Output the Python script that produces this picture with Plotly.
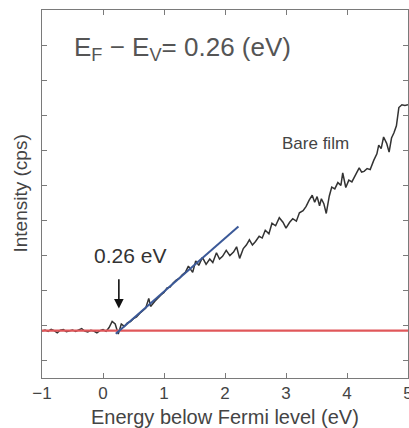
import plotly.graph_objects as go

# Measured spectrum (Energy below Fermi level, eV) vs intensity (arb. units)
energy = [-1.00, -0.95, -0.90, -0.85, -0.80, -0.75, -0.70, -0.65, -0.60, -0.55,
          -0.50, -0.45, -0.40, -0.35, -0.30, -0.25, -0.20, -0.15, -0.10, -0.05,
          0.00, 0.05, 0.10, 0.15, 0.20, 0.25, 0.30, 0.35, 0.40, 0.45,
          0.50, 0.55, 0.60, 0.65, 0.70, 0.75, 0.78, 0.85, 0.90, 0.95,
          1.00, 1.05, 1.10, 1.15, 1.20, 1.25, 1.30, 1.35, 1.40, 1.47,
          1.52, 1.57, 1.63, 1.69, 1.75, 1.80, 1.86, 1.91, 1.96, 2.02,
          2.08, 2.14, 2.19, 2.24, 2.30, 2.35, 2.40, 2.45, 2.50, 2.56,
          2.61, 2.66, 2.72, 2.77, 2.83, 2.89, 2.95, 3.00, 3.06, 3.11,
          3.17, 3.22, 3.28, 3.33, 3.38, 3.43, 3.47, 3.51, 3.55, 3.58,
          3.62, 3.66, 3.71, 3.75, 3.80, 3.85, 3.90, 3.93, 3.98, 4.03,
          4.08, 4.13, 4.20, 4.24, 4.28, 4.33, 4.38, 4.44, 4.49, 4.52,
          4.56, 4.60, 4.65, 4.69, 4.73, 4.77, 4.81, 4.85, 4.90, 4.95, 5.00]
intensity = [0.85, 0.88, 0.84, 0.90, 0.86, 0.80, 0.87, 0.89, 0.83, 0.86,
             0.88, 0.84, 0.87, 0.92, 0.85, 0.82, 0.87, 0.85, 0.80, 0.86,
             0.89, 0.84, 0.95, 1.12, 1.05, 0.76, 1.05, 0.98, 1.08, 1.12,
             1.20, 1.25, 1.35, 1.42, 1.50, 1.78, 1.55, 1.70, 1.80, 1.88,
             1.95, 2.08, 2.10, 2.22, 2.30, 2.35, 2.45, 2.52, 2.70, 2.52,
             2.85, 2.72, 2.95, 2.75, 2.90, 2.80, 3.08, 2.90, 2.98, 3.15,
             3.00, 3.10, 3.25, 2.92, 3.20, 3.30, 3.45, 3.30, 3.40, 3.55,
             3.50, 3.72, 3.62, 3.92, 3.85, 4.08, 3.95, 3.78, 3.95, 4.05,
             3.98, 4.22, 4.28, 4.40, 4.58, 4.72, 4.52, 4.68, 4.42, 4.62,
             4.48, 4.20, 4.70, 4.95, 4.90, 5.08, 5.00, 5.36, 4.94, 5.15,
             5.10, 5.25, 5.50, 5.38, 5.40, 5.48, 5.45, 5.72, 5.90, 6.15,
             6.05, 6.38, 6.20, 5.95, 6.35, 6.50, 6.70, 7.22, 7.30, 7.28, 7.30]

# Background (red) and linear fit of the leading edge (blue)
baseline_x = [-1.0, 5.0]
baseline_y = [0.86, 0.86]
fit_x = [0.21, 2.22]
fit_y = [0.77, 3.83]

x_ticks = [-1, 0, 1, 2, 3, 4, 5]
onset = 0.26

FONT = "Liberation Sans, Arial, Helvetica, sans-serif"
AXC = "#7a7a7a"

fig = go.Figure()
fig.add_trace(go.Scatter(x=energy, y=intensity, mode="lines",
                         line=dict(color="#333333", width=1.5), showlegend=False))
fig.add_trace(go.Scatter(x=baseline_x, y=baseline_y, mode="lines",
                         line=dict(color="#e0575a", width=2.2), showlegend=False))
fig.add_trace(go.Scatter(x=fit_x, y=fit_y, mode="lines",
                         line=dict(color="#3b5998", width=2), showlegend=False))

fig.update_layout(
    width=409, height=428,
    margin=dict(l=42, r=1, t=10, b=50, autoexpand=False),
    paper_bgcolor="white", plot_bgcolor="white",
    font=dict(family=FONT, color="#444"),
    xaxis=dict(range=[-1, 5], tickvals=x_ticks, ticks="inside", ticklen=5,
               tickcolor=AXC, showline=True, linecolor=AXC, linewidth=1,
               mirror="ticks", showgrid=False, zeroline=False,
               ticklabeloverflow="allow", automargin=False,
               tickfont=dict(size=17, color="#444")),
    yaxis=dict(range=[-0.49, 10], dtick=1, tick0=0, ticks="inside", ticklen=5,
               tickcolor=AXC, showline=True, linecolor=AXC, linewidth=1,
               mirror="ticks", showgrid=False, zeroline=False,
               showticklabels=False, automargin=False),
)

fig.add_annotation(x=-0.51, y=8.91, xref="x", yref="y", xanchor="left",
                   text="E<sub>F</sub> − E<sub>V</sub>= 0.26 (eV)", showarrow=False,
                   font=dict(size=26, color="#555", family=FONT))
fig.add_annotation(x=3.48, y=6.2, xref="x", yref="y", text="Bare film",
                   showarrow=False, font=dict(size=17, color="#444", family=FONT))
fig.add_annotation(x=0.44, y=3.0, xref="x", yref="y", text="0.26 eV",
                   showarrow=False, font=dict(size=21, color="#333", family=FONT))
fig.add_annotation(x=onset, y=1.49, ax=onset, ay=2.37, xref="x", yref="y",
                   axref="x", ayref="y", text="", showarrow=True, arrowhead=2,
                   arrowsize=1.2, arrowwidth=1.6, arrowcolor="#111")
fig.add_annotation(x=0, y=0.5, xref="paper", yref="paper", text="Intensity (cps)",
                   textangle=-90, showarrow=False, xanchor="right", xshift=-10,
                   font=dict(size=19, color="#444", family=FONT))
fig.add_annotation(x=0.5, y=0, xref="paper", yref="paper", yanchor="top",
                   yshift=-26, text="Energy below Fermi level (eV)", showarrow=False,
                   font=dict(size=20, color="#444", family=FONT))

fig.write_html("out.html", config={"displayModeBar": False},
               post_script="document.body.style.margin='0';")
